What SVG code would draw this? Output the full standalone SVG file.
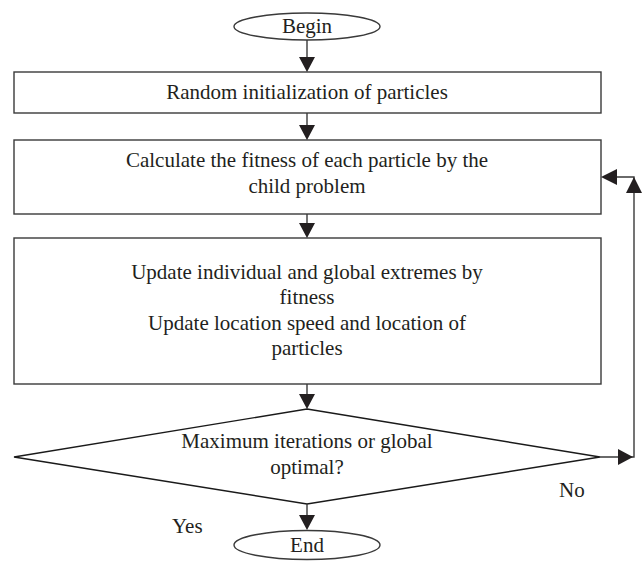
<svg xmlns="http://www.w3.org/2000/svg" width="643" height="561" viewBox="0 0 643 561">
<style>
.shape{fill:#fff;stroke:#3a3a3a;stroke-width:1.4}
.dia{fill:#fff;stroke:#1a1a1a;stroke-width:1.4}
.t{font-family:"Liberation Serif","Times New Roman",serif;font-size:21px;fill:#231f20;text-anchor:middle}
.l{font-family:"Liberation Serif","Times New Roman",serif;font-size:21px;fill:#231f20}
.c{fill:none;stroke:#3a3a3a;stroke-width:1.4}
.h{fill:#231f20;stroke:none}
</style>
<rect width="643" height="561" fill="#fff"/>
<g id="begin">
<ellipse class="shape" cx="307" cy="26.5" rx="73" ry="13.5"/>
<text class="t" x="307" y="33">Begin</text>
</g>
<g id="init">
<rect class="shape" x="14" y="72" width="587" height="41"/>
<text class="t" x="307" y="99">Random initialization of particles</text>
</g>
<g id="fitness">
<rect class="shape" x="14" y="140" width="587" height="74"/>
<text class="t" x="307" y="167">Calculate the fitness of each particle by the</text>
<text class="t" x="307" y="193">child problem</text>
</g>
<g id="update">
<rect class="shape" x="14" y="238" width="587" height="146"/>
<text class="t" x="307" y="279">Update individual and global extremes by</text>
<text class="t" x="307" y="304">fitness</text>
<text class="t" x="307" y="330">Update location speed and location of</text>
<text class="t" x="307" y="355">particles</text>
</g>
<g id="decision">
<polygon class="dia" points="307,409 600,457 307,504 14,457"/>
<text class="t" x="307" y="448">Maximum iterations or global</text>
<text class="t" x="307" y="474">optimal?</text>
</g>
<g id="end">
<ellipse class="shape" cx="307" cy="545" rx="73" ry="14.5"/>
<text class="t" x="307" y="552">End</text>
</g>
<g id="connectors">
<line class="c" x1="307" y1="40" x2="307" y2="58"/>
<polygon class="h" points="299,57 315,57 307,72"/>
<line class="c" x1="307" y1="113" x2="307" y2="126"/>
<polygon class="h" points="299,125 315,125 307,140"/>
<line class="c" x1="307" y1="214" x2="307" y2="224"/>
<polygon class="h" points="299,223 315,223 307,238"/>
<line class="c" x1="307" y1="384" x2="307" y2="395"/>
<polygon class="h" points="299,394 315,394 307,409"/>
<line class="c" x1="307" y1="504" x2="307" y2="516"/>
<polygon class="h" points="299,515 315,515 307,530"/>
<polyline class="c" points="600,457 634,457 634,177 617,177"/>
<polygon class="h" points="618,449 618,465 633,457"/>
<polygon class="h" points="626,193 642,193 634,177"/>
<polygon class="h" points="617,169 617,185 601,177"/>
<text class="l" x="559" y="497">No</text>
<text class="l" x="172" y="533">Yes</text>
</g>
</svg>
